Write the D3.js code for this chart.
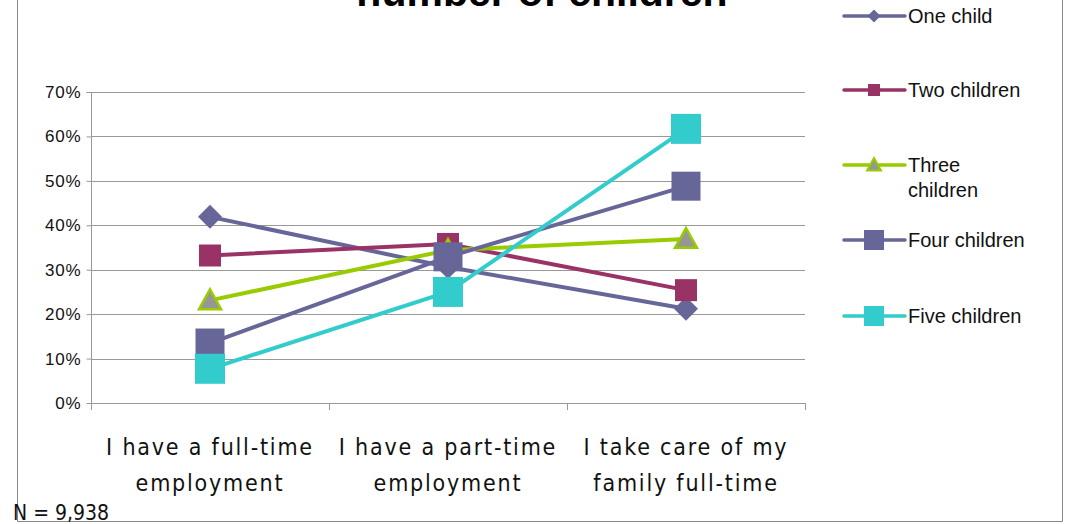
<!DOCTYPE html>
<html>
<head>
<meta charset="utf-8">
<script src="https://cdn.jsdelivr.net/npm/d3@7"></script>
<style>
  body { margin: 0; background: #fff; }
  svg { display: block; }
</style>
</head>
<body>
<svg id="chart" width="1067" height="524"></svg>
<script>
// data
var categories = [
  ["I have a full-time", "employment"],
  ["I have a part-time", "employment"],
  ["I take care of my", "family full-time"]
];
var seriesNames = ["One child", "Two children", "Three children", "Four children", "Five children"];
var oneChild = [0.419, 0.306, 0.212];
var twoChildren = [0.332, 0.358, 0.254];
var threeChildren = [0.231, 0.344, 0.369];
var fourChildren = [0.135, 0.329, 0.488];
var fiveChildren = [0.077, 0.250, 0.617];
var yTicks = [0, 0.1, 0.2, 0.3, 0.4, 0.5, 0.6, 0.7];

var series = [
  {name: seriesNames[0], values: oneChild, line: "#666699", fill: "#666699", stroke: null, shape: "diamond", size: 24, lsize: 13},
  {name: seriesNames[1], values: twoChildren, line: "#993366", fill: "#993366", stroke: null, shape: "square", size: 22, lsize: 12},
  {name: seriesNames[2], values: threeChildren, line: "#99cc00", fill: "#969696", stroke: "#99cc00", shape: "triangle", size: 22, lsize: 14},
  {name: seriesNames[3], values: fourChildren, line: "#666699", fill: "#666699", stroke: null, shape: "square", size: 29, lsize: 20},
  {name: seriesNames[4], values: fiveChildren, line: "#33cccc", fill: "#33cccc", stroke: null, shape: "square", size: 30, lsize: 20}
];

var svg = d3.select("#chart");
var plot = {left: 91, right: 805, top: 92, bottom: 403};

var x = d3.scaleBand().domain(d3.range(categories.length)).range([plot.left, plot.right]);
var y = d3.scaleLinear().domain([0, 0.7]).range([plot.bottom, plot.top]);

// outer frame
svg.append("path")
  .attr("d", "M17.5,0 V521.5 H1062.5 V0")
  .attr("fill", "none")
  .attr("stroke", "#888")
  .attr("stroke-width", 1);

// title (cut off at the top, as in the source)
svg.append("text")
  .attr("x", 542).attr("y", 6)
  .attr("text-anchor", "middle")
  .attr("font-family", "Liberation Sans, Arial, sans-serif")
  .attr("font-weight", "bold")
  .attr("font-size", 41)
  .text("number of children");

// gridlines
svg.append("g")
  .selectAll("line")
  .data(yTicks.slice(1))
  .enter().append("line")
  .attr("x1", plot.left).attr("x2", plot.right)
  .attr("y1", d => Math.round(y(d)) + 0.5).attr("y2", d => Math.round(y(d)) + 0.5)
  .attr("stroke", "#999").attr("stroke-width", 1);

// y axis
var yAxis = svg.append("g")
  .attr("transform", "translate(" + (plot.left + 0.5) + ",0)")
  .call(d3.axisLeft(y).tickValues(yTicks).tickFormat(d3.format(".0%")).tickSize(5).tickPadding(5));
yAxis.select(".domain").attr("stroke", "#999").attr("d", "M-5," + (plot.top + 0.5) + "H0V" + (plot.bottom + 7));
yAxis.selectAll(".tick line").attr("stroke", "#999");
yAxis.selectAll(".tick text")
  .attr("font-family", "Liberation Sans, Arial, sans-serif")
  .attr("font-size", 17)
  .attr("letter-spacing", 0.8)
  .attr("fill", "#111");

// x axis
var xAxis = svg.append("g")
  .attr("transform", "translate(0," + (plot.bottom + 0.5) + ")")
  .call(d3.axisBottom(x).tickSize(0).tickFormat(""));
xAxis.select(".domain").attr("stroke", "#999").attr("d", "M" + plot.left + ",0H" + plot.right);
svg.append("g")
  .selectAll("line")
  .data(d3.range(categories.length + 1))
  .enter().append("line")
  .attr("x1", d => Math.round(plot.left + d * x.step()) + 0.5)
  .attr("x2", d => Math.round(plot.left + d * x.step()) + 0.5)
  .attr("y1", plot.bottom).attr("y2", plot.bottom + 7)
  .attr("stroke", "#999");

var xLabels = svg.append("g")
  .selectAll("text")
  .data(categories)
  .enter().append("text")
  .attr("x", (d, i) => x(i) + x.bandwidth() / 2)
  .attr("y", 455)
  .attr("text-anchor", "middle")
  .attr("font-family", "Liberation Sans Narrow, DejaVu Sans Condensed, sans-serif")
  .attr("font-size", 23)
  .attr("letter-spacing", 1.8)
  .attr("fill", "#111");
xLabels.selectAll("tspan")
  .data(d => d)
  .enter().append("tspan")
  .attr("x", function () { return d3.select(this.parentNode).attr("x"); })
  .attr("dy", (d, i) => i === 0 ? 0 : 36)
  .text(d => d);

function markerPath(shape, s) {
  var h = s / 2;
  if (shape === "diamond") return "M0," + (-h) + "L" + h + ",0L0," + h + "L" + (-h) + ",0Z";
  if (shape === "triangle") return "M0," + (-h) + "L" + h + "," + (h * 0.8) + "L" + (-h) + "," + (h * 0.8) + "Z";
  return "M" + (-h) + "," + (-h) + "H" + h + "V" + h + "H" + (-h) + "Z";
}

var line = d3.line()
  .x((d, i) => x(i) + x.bandwidth() / 2)
  .y(d => y(d));

series.forEach(function (s) {
  var g = svg.append("g");
  g.append("path")
    .attr("d", line(s.values))
    .attr("fill", "none")
    .attr("stroke", s.line)
    .attr("stroke-width", 4);
  g.selectAll("path.mk")
    .data(s.values)
    .enter().append("path")
    .attr("class", "mk")
    .attr("transform", (d, i) => "translate(" + (x(i) + x.bandwidth() / 2) + "," + y(d) + ")")
    .attr("d", markerPath(s.shape, s.size))
    .attr("fill", s.fill)
    .attr("stroke", s.stroke || "none")
    .attr("stroke-width", s.stroke ? 2.5 : 0);
});

// legend
var legendY = [16, 90, 165, 240, 316];
var legend = svg.append("g")
  .selectAll("g")
  .data(series)
  .enter().append("g")
  .attr("transform", (d, i) => "translate(844," + legendY[i] + ")");
legend.append("line")
  .attr("x1", 0).attr("x2", 61)
  .attr("stroke", d => d.line)
  .attr("stroke-width", 3.5)
  .attr("stroke-linecap", "round");
legend.append("path")
  .attr("transform", "translate(30,0)")
  .attr("d", d => markerPath(d.shape, d.lsize))
  .attr("fill", d => d.fill)
  .attr("stroke", d => d.stroke || "none")
  .attr("stroke-width", d => d.stroke ? 2 : 0);
legend.append("text")
  .attr("x", 64)
  .attr("y", 7)
  .attr("font-family", "Liberation Sans, Arial, sans-serif")
  .attr("font-size", 20)
  .attr("fill", "#111")
  .each(function (d) {
    var t = d3.select(this);
    if (d.name === "Three children") {
      t.append("tspan").attr("x", 64).attr("dy", 0).text("Three");
      t.append("tspan").attr("x", 64).attr("dy", 25).text("children");
    } else {
      t.text(d.name);
    }
  });

// footnote
svg.append("text")
  .attr("x", 13).attr("y", 520)
  .attr("font-family", "Liberation Sans Narrow, DejaVu Sans Condensed, sans-serif")
  .attr("font-size", 21)
  .attr("fill", "#111")
  .text("N = 9,938");
</script>
</body>
</html>
